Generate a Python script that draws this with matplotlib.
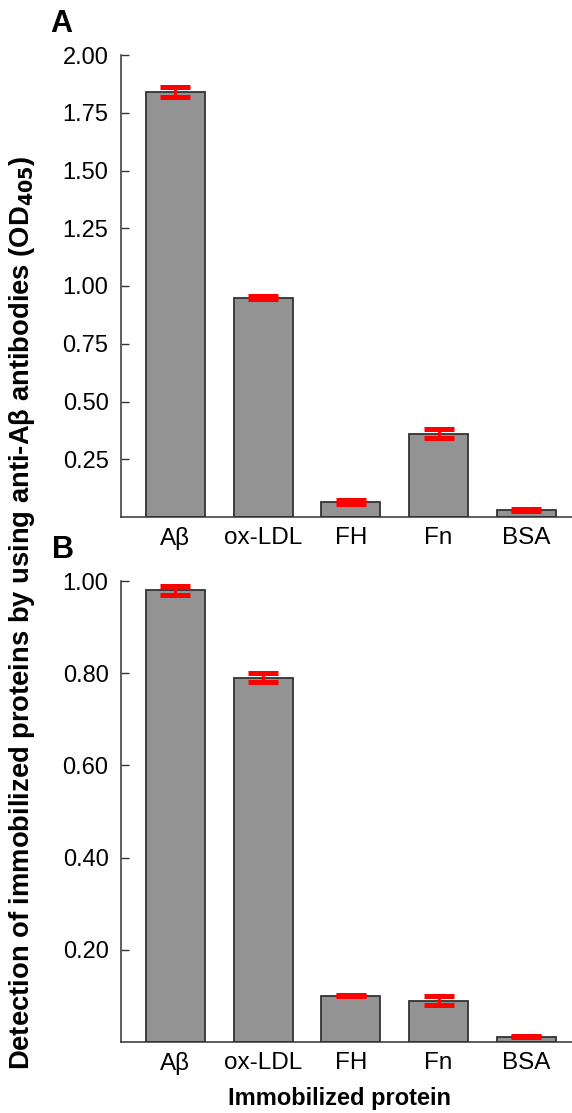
import matplotlib.pyplot as plt
import numpy as np

plt.rcParams["font.family"] = ["Liberation Sans", "DejaVu Sans"]

proteins = ["A\u03b2", "ox-LDL", "FH", "Fn", "BSA"]

# panel A: OD405 with anti-Abeta antibodies
a_means = [1.84, 0.95, 0.065, 0.36, 0.03]
a_errs = [0.02, 0.008, 0.01, 0.02, 0.004]
a_ticks = [0.25, 0.50, 0.75, 1.00, 1.25, 1.50, 1.75, 2.00]

# panel B
b_means = [0.98, 0.79, 0.10, 0.09, 0.011]
b_errs = [0.01, 0.01, 0.001, 0.01, 0.001]
b_ticks = [0.20, 0.40, 0.60, 0.80, 1.00]

W, H = 572, 1113
fig = plt.figure(figsize=(W / 100, H / 100), dpi=100)


def panel(rect, means, errs, ticks, ymax):
    ax = fig.add_axes(rect)
    x = np.arange(len(proteins))
    ax.bar(x, means, width=0.67, color="#939393", edgecolor="#333333",
           linewidth=1.3, zorder=2)
    ax.errorbar(x, means, yerr=errs, fmt="none", ecolor="#ff0000",
                elinewidth=2.2, capsize=10.5, capthick=3.6, zorder=3)
    ax.set_xlim(-0.62, 4.52)
    ax.set_ylim(0, ymax)
    ax.set_yticks(ticks)
    ax.set_yticklabels([f"{t:.2f}" for t in ticks], fontsize=17)
    ax.set_xticks(x)
    ax.set_xticklabels(proteins, fontsize=17.5)
    ax.tick_params(axis="x", length=0, pad=7)
    ax.tick_params(axis="y", direction="in", length=6, width=1, color="#333333", pad=9)
    for s in ["top", "right"]:
        ax.spines[s].set_visible(False)
    for s in ["left", "bottom"]:
        ax.spines[s].set_color("#333333")
        ax.spines[s].set_linewidth(1.1)
    return ax


axA = panel([121 / W, 1 - 517 / H, 1 - 121 / W, (517 - 55) / H],
            a_means, a_errs, a_ticks, 2.0)
axB = panel([121 / W, 1 - 1042 / H, 1 - 121 / W, (1042 - 581) / H],
            b_means, b_errs, b_ticks, 1.0)

fig.text(50 / W, 1 - 24 / H, "A", fontsize=22, fontweight="bold", va="center")
fig.text(52 / W, 1 - 550 / H, "B", fontsize=22, fontweight="bold", va="center")
fig.text(22 / W, 1 - 613 / H,
         "Detection of immobilized proteins by using anti-A\u03b2 antibodies (OD$_\\mathbf{405}$)",
         fontsize=19.7, fontweight="bold", rotation=90, ha="center", va="center")
fig.text(340 / W, 1 - 1099 / H, "Immobilized protein", fontsize=17,
         fontweight="bold", ha="center", va="center")

fig.savefig("out.png", dpi=100)
